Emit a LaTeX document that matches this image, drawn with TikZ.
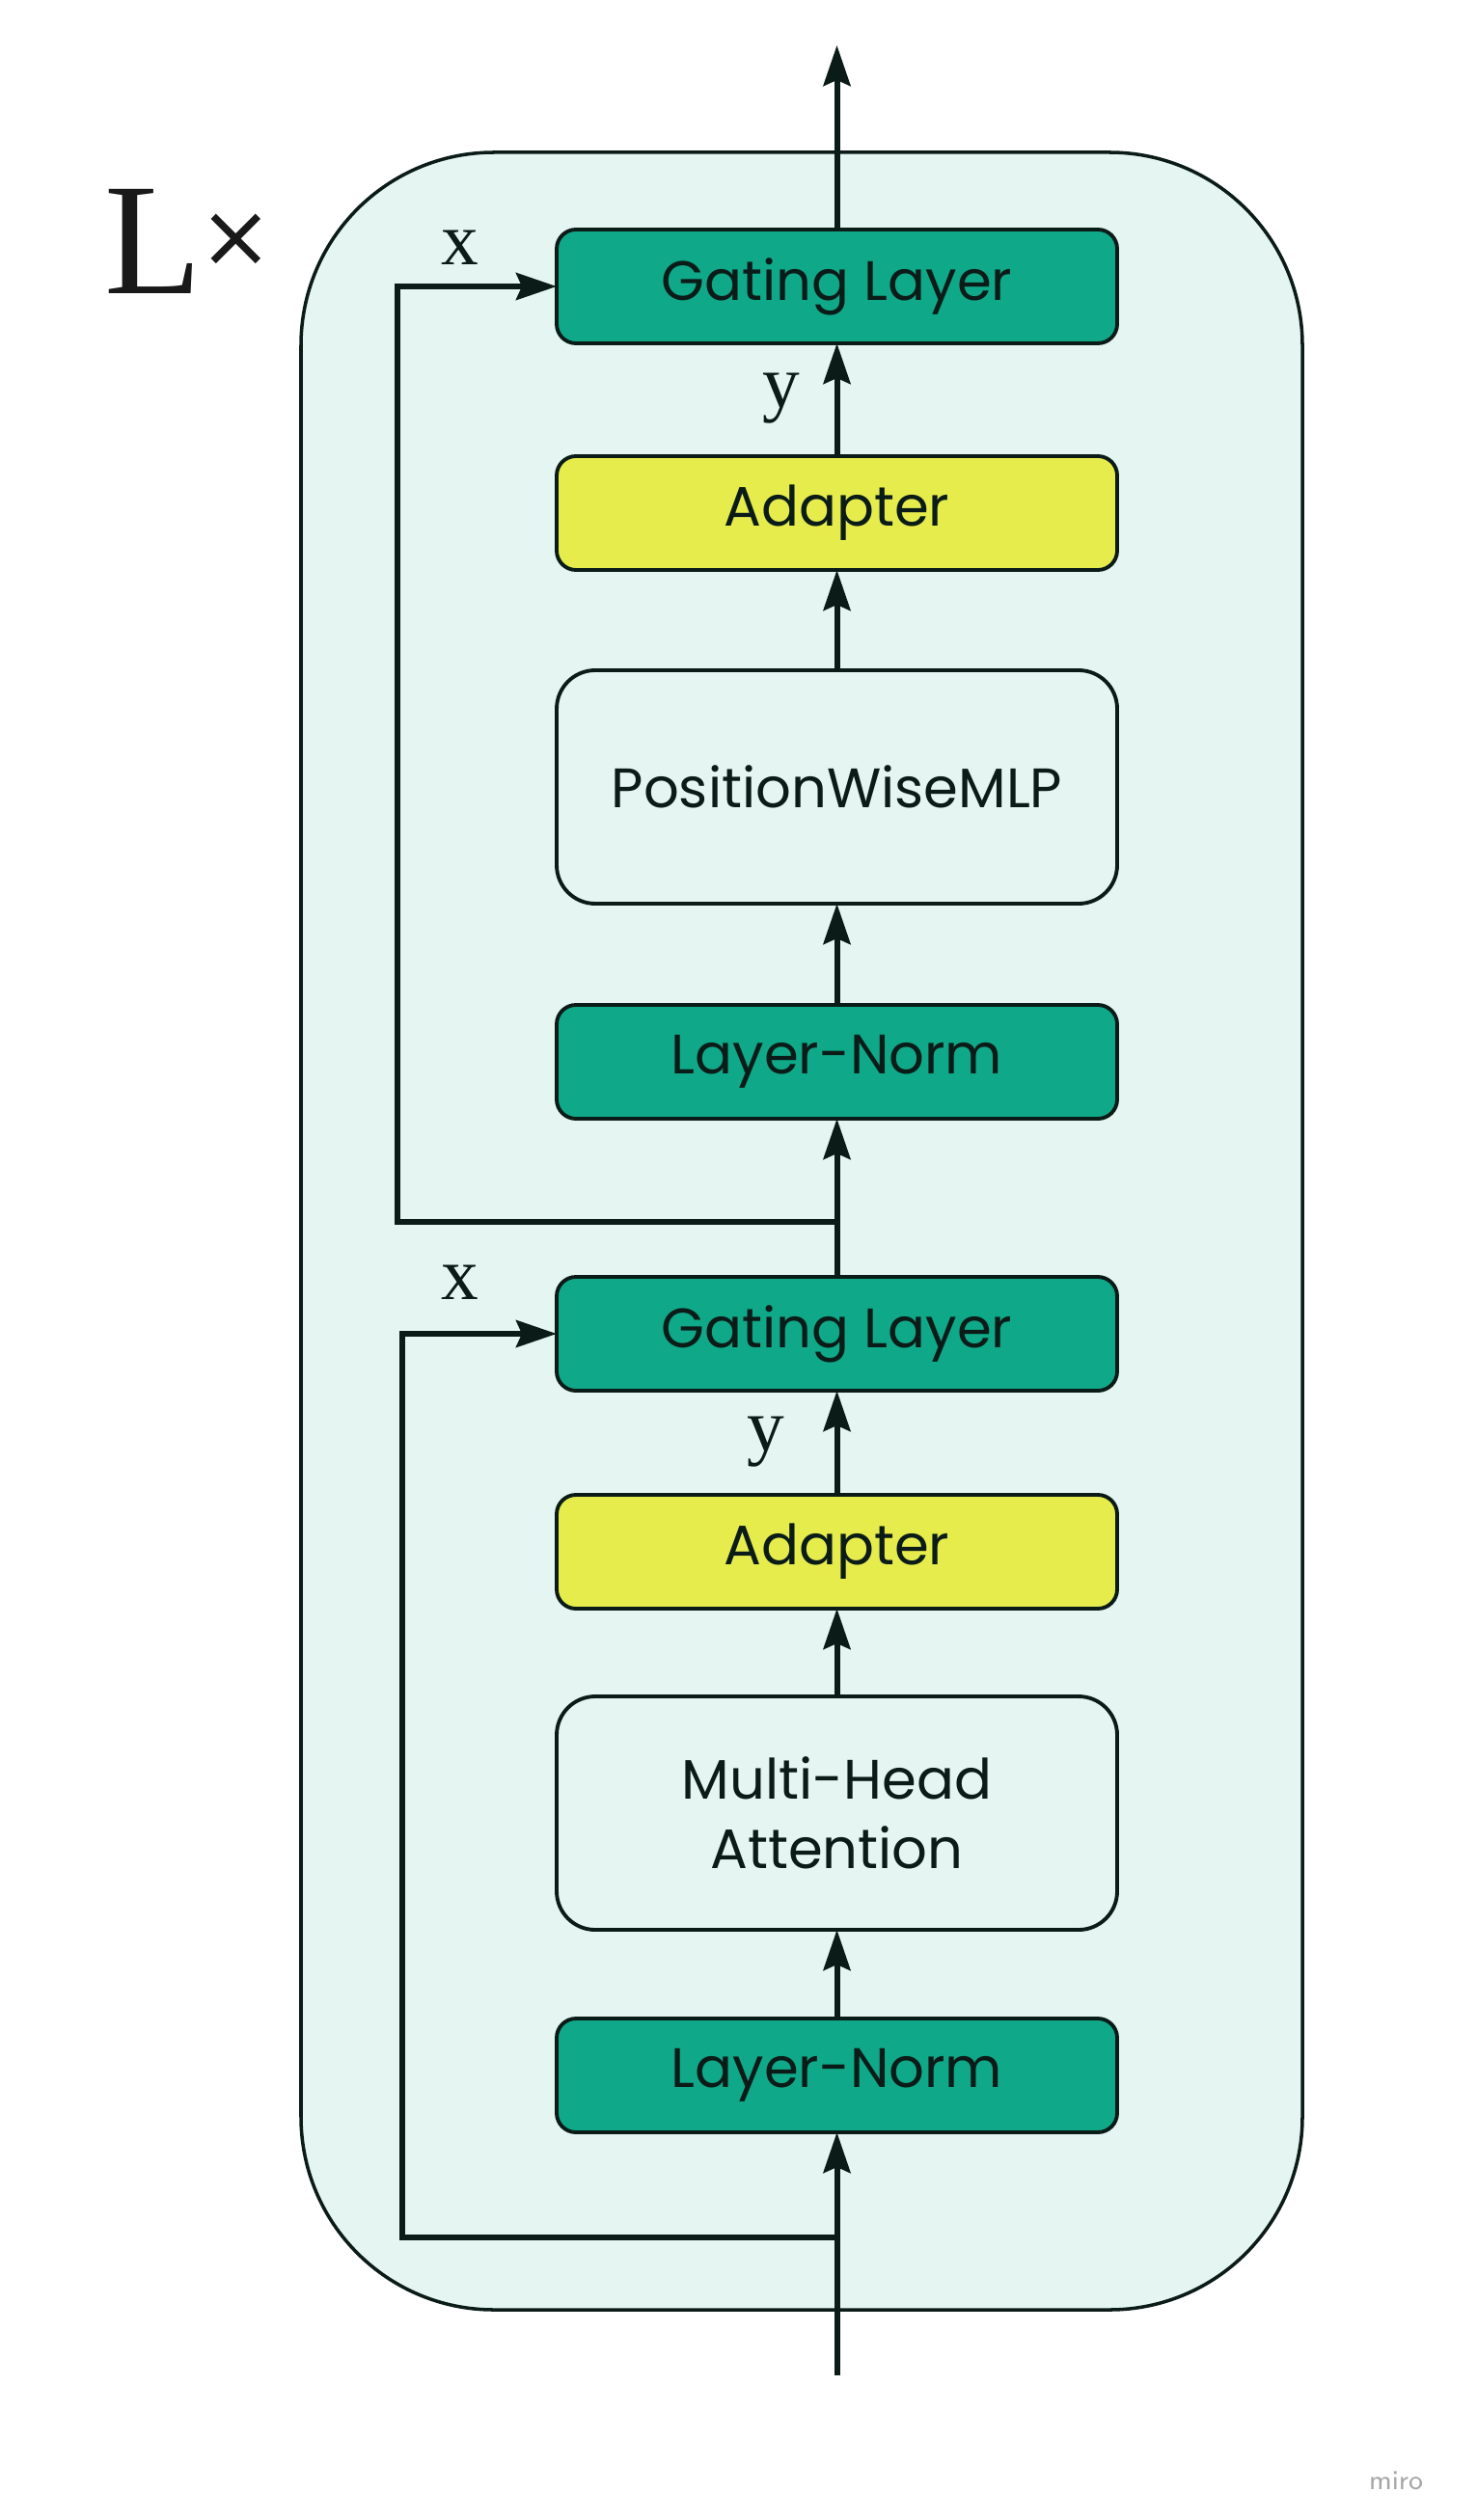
\documentclass[tikz,border=0pt]{standalone}
\usepackage{fontspec}
\usepackage{xcolor}
\usepackage{tikz}
\usetikzlibrary{arrows.meta,positioning}
\newfontfamily\boxfont{Poppins}
\newfontfamily\lblfont{Liberation Serif}
\newfontfamily\signfont{DejaVu Sans}
\definecolor{ink}{HTML}{0B1C18}
\definecolor{mint}{HTML}{E5F5F1}
\definecolor{gate}{HTML}{0FA888}
\definecolor{adapt}{HTML}{E6EC4C}

\begin{document}
\begin{tikzpicture}[
    node distance=10mm,
    unit/.style={draw=ink, line width=1.1pt, rounded corners=2mm, align=center, minimum width=58.1mm, minimum height=11.8mm, inner sep=0pt, outer sep=0pt, font=\boxfont\fontsize{16.4}{20.5}\selectfont, text=ink},
    gatebox/.style={unit, fill=gate},
    adaptbox/.style={unit, fill=adapt},
    bigbox/.style={unit, fill=mint, rounded corners=4mm, minimum height=24.2mm},
    lbl/.style={font=\lblfont\fontsize{22}{26}\selectfont, text=ink, inner sep=0pt},
    arrow/.style={-{Stealth[length=4.2mm, width=2.8mm, inset=0.6mm]}, line width=1.7pt, draw=ink},
    skip/.style={arrow}
]
\useasboundingbox (0,0) rectangle (15.3,-26.13);
\node[draw=ink, line width=1pt, fill=mint, rounded corners=20mm, minimum width=103.8mm, minimum height=223.7mm] (blk) at (8.31,-12.765) {};

% lower half
\node[gatebox] (lnA) at (8.675,-21.52) {Layer-Norm};
\node[bigbox, above=9.2mm of lnA] (mha) {Multi-Head\\Attention};
\node[adaptbox, above=9.1mm of mha] (adpA) {Adapter};
\node[gatebox, above=10.8mm of adpA] (gateA) {Gating Layer};

% upper half
\node[gatebox, above=16.4mm of gateA] (lnB) {Layer-Norm};
\node[bigbox, above=10.5mm of lnB] (mlp) {PositionWiseMLP};
\node[adaptbox, above=10.4mm of mlp] (adpB) {Adapter};
\node[gatebox, above=11.7mm of adpB] (gateB) {Gating Layer};

\coordinate (inA) at (8.675,-24.63);
\coordinate (out) at (8.675,-0.47);
\coordinate (splitA) at (8.675,-23.20);
\coordinate (cornA) at (4.17,-23.20);
\coordinate (splitB) at (8.675,-12.67);
\coordinate (cornB) at (4.12,-12.67);

\draw[arrow] (inA) -- (lnA);
\draw[arrow] (lnA) -- (mha);
\draw[arrow] (mha) -- (adpA);
\draw[arrow] (adpA) -- (gateA);
\draw[arrow] (gateA) -- (lnB);
\draw[arrow] (lnB) -- (mlp);
\draw[arrow] (mlp) -- (adpB);
\draw[arrow] (adpB) -- (gateB);
\draw[arrow] (gateB) -- (out);
\draw[skip] (splitA) -- (cornA) |- (gateA.west);
\draw[skip] (splitB) -- (cornB) |- (gateB.west);

\node[lbl] (xA) at (4.77,-13.30) {x};
\node[lbl] (yA) at (7.94,-14.95) {y};
\node[lbl] (xB) at (4.77,-2.57) {x};
\node[lbl] (yB) at (8.10,-4.13) {y};

\node[anchor=base west, text=black!90, inner sep=0pt, font=\lblfont\fontsize{47}{52}\selectfont] (rep) at (1.08,-3.05) {L\kern-1pt\raisebox{8pt}{\signfont\fontsize{26}{30}\selectfont ×}};
\node[text=black!35, font=\sffamily\fontsize{8}{9}\selectfont] (miro) at (14.47,-25.72) {miro};
\end{tikzpicture}
\end{document}
